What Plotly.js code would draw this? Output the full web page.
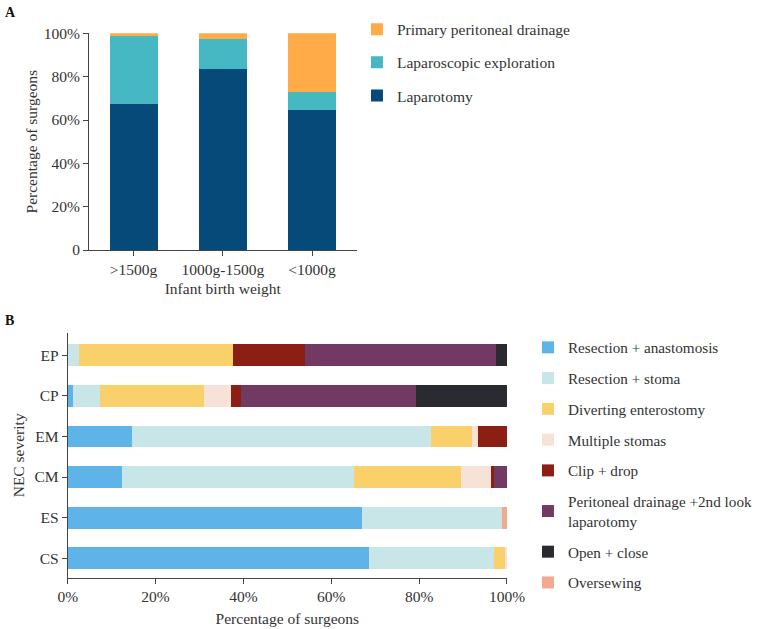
<!DOCTYPE html>
<html>
<head>
<meta charset="utf-8">
<script src="https://cdn.plot.ly/plotly-3.0.1.min.js"></script>
<style>html,body{margin:0;padding:0;background:#fff;}#chart{width:760px;height:629px;}</style>
</head>
<body>
<div id="chart"></div>
<script>
// Panel A data
const weights = ['>1500g', '1000g-1500g', '<1000g'];
const laparotomy = [67.2, 83.5, 64.6];
const lapExplore = [31.7, 13.9, 8.3];
const primaryDrain = [1.1, 2.6, 27.1];
const pctTicksA = [0, 20, 40, 60, 80, 100];
const pctLabelsA = ['0', '20%', '40%', '60%', '80%', '100%'];

// Panel B data
const severity = ['EP', 'CP', 'EM', 'CM', 'ES', 'CS'];
const severityOrder = ['CS', 'ES', 'CM', 'EM', 'CP', 'EP'];
const resAnast   = [0, 1.1, 14.6, 12.4, 67.1, 68.5];
const resStoma   = [2.6, 6.3, 68.1, 52.7, 31.8, 28.6];
const divert     = [35.1, 23.6, 9.3, 24.5, 0, 2.5];
const multiStoma = [0, 6.2, 1.4, 6.7, 0, 0.4];
const clipDrop   = [16.3, 2.2, 6.6, 0.8, 0, 0];
const peritDrain = [43.4, 39.9, 0, 2.9, 0, 0];
const openClose  = [2.6, 20.7, 0, 0, 0, 0];
const overSew    = [0, 0, 0, 0, 1.1, 0];
const pctTicksB = [0, 20, 40, 60, 80, 100];
const pctLabelsB = ['0%', '20%', '40%', '60%', '80%', '100%'];

const FONT = "'Liberation Serif', 'Times New Roman', serif";
const TXT = '#333333';

function barA(name, y, color, rank) {
  return {type: 'bar', name: name, x: weights, y: y, xaxis: 'x', yaxis: 'y',
    marker: {color: color, line: {width: 0}}, legend: 'legend', legendgroup: name,
    legendrank: rank, hoverinfo: 'skip'};
}
function barB(name, x, color, rank) {
  return {type: 'bar', orientation: 'h', name: name, x: x, y: severity, xaxis: 'x2', yaxis: 'y2',
    marker: {color: color, line: {width: 0}}, legend: 'legend2', legendgroup: name,
    legendrank: rank, hoverinfo: 'skip'};
}

const data = [
  barA('Laparotomy', laparotomy, '#054A79', 3),
  barA('Laparoscopic exploration', lapExplore, '#45B8C3', 2),
  barA('Primary peritoneal drainage', primaryDrain, '#FFAB48', 1),
  barB('Resection + anastomosis', resAnast, '#5EB4E8', 1),
  barB('Resection + stoma', resStoma, '#C8E5E7', 2),
  barB('Diverting enterostomy', divert, '#FAD06B', 3),
  barB('Multiple stomas', multiStoma, '#F6E2D7', 4),
  barB('Clip + drop', clipDrop, '#8C1F13', 5),
  barB('Peritoneal drainage +2nd look<br>laparotomy', peritDrain, '#723A63', 6),
  barB('Open + close', openClose, '#2A2B30', 7),
  barB('Oversewing', overSew, '#F1A98F', 8)
];

const axisCommon = {showgrid: false, zeroline: false, showline: true, linecolor: '#444', linewidth: 1,
  ticks: 'outside', ticklen: 5, tickcolor: '#444', tickfont: {family: FONT, size: 15.5, color: TXT}};

const layout = {
  width: 760, height: 629,
  margin: {l: 0, r: 0, t: 0, b: 0},
  paper_bgcolor: '#fff', plot_bgcolor: '#fff',
  font: {family: FONT, size: 15.5, color: TXT},
  barmode: 'stack',
  bargap: 0.46,
  showlegend: true,
  xaxis: Object.assign({}, axisCommon, {domain: [0.1171, 0.4693], range: [-0.5, 2.5],
    title: {text: 'Infant birth weight', font: {family: FONT, size: 15.5, color: TXT}, standoff: 6}}),
  yaxis: Object.assign({}, axisCommon, {domain: [0.6025, 0.947], range: [0, 100],
    tickvals: pctTicksA, ticktext: pctLabelsA,
    title: {text: 'Percentage of surgeons', font: {family: FONT, size: 15.5, color: TXT}, standoff: 2}}),
  xaxis2: Object.assign({}, axisCommon, {domain: [0.0891, 0.6671], range: [0, 100], anchor: 'y2',
    tickvals: pctTicksB, ticktext: pctLabelsB,
    title: {text: 'Percentage of surgeons', font: {family: FONT, size: 15.5, color: TXT}, standoff: 8}}),
  yaxis2: Object.assign({}, axisCommon, {domain: [0.0816, 0.4706], anchor: 'x2',
    type: 'category', categoryorder: 'array', categoryarray: severityOrder, range: [-0.48, 5.55],
    title: {text: 'NEC severity', font: {family: FONT, size: 15.5, color: TXT}, standoff: 6}}),
  legend: {x: 0.4697, xanchor: 'left', y: 0.98, yanchor: 'top',
    traceorder: 'grouped', tracegroupgap: 10, font: {family: FONT, size: 15.5, color: TXT},
    bgcolor: 'rgba(0,0,0,0)'},
  legend2: {x: 0.6947, xanchor: 'left', y: 0.4738, yanchor: 'top',
    traceorder: 'grouped', tracegroupgap: 8, font: {family: FONT, size: 15.2, color: TXT},
    bgcolor: 'rgba(0,0,0,0)'},
  annotations: [
    {text: '<b>A</b>', xref: 'paper', yref: 'paper', x: 0.004, y: 0.995, xanchor: 'left', yanchor: 'top',
      showarrow: false, font: {family: FONT, size: 14, color: '#111'}},
    {text: '<b>B</b>', xref: 'paper', yref: 'paper', x: 0.004, y: 0.505, xanchor: 'left', yanchor: 'top',
      showarrow: false, font: {family: FONT, size: 14, color: '#111'}}
  ]
};

Plotly.newPlot('chart', data, layout, {displayModeBar: false, staticPlot: true});
</script>
</body>
</html>
